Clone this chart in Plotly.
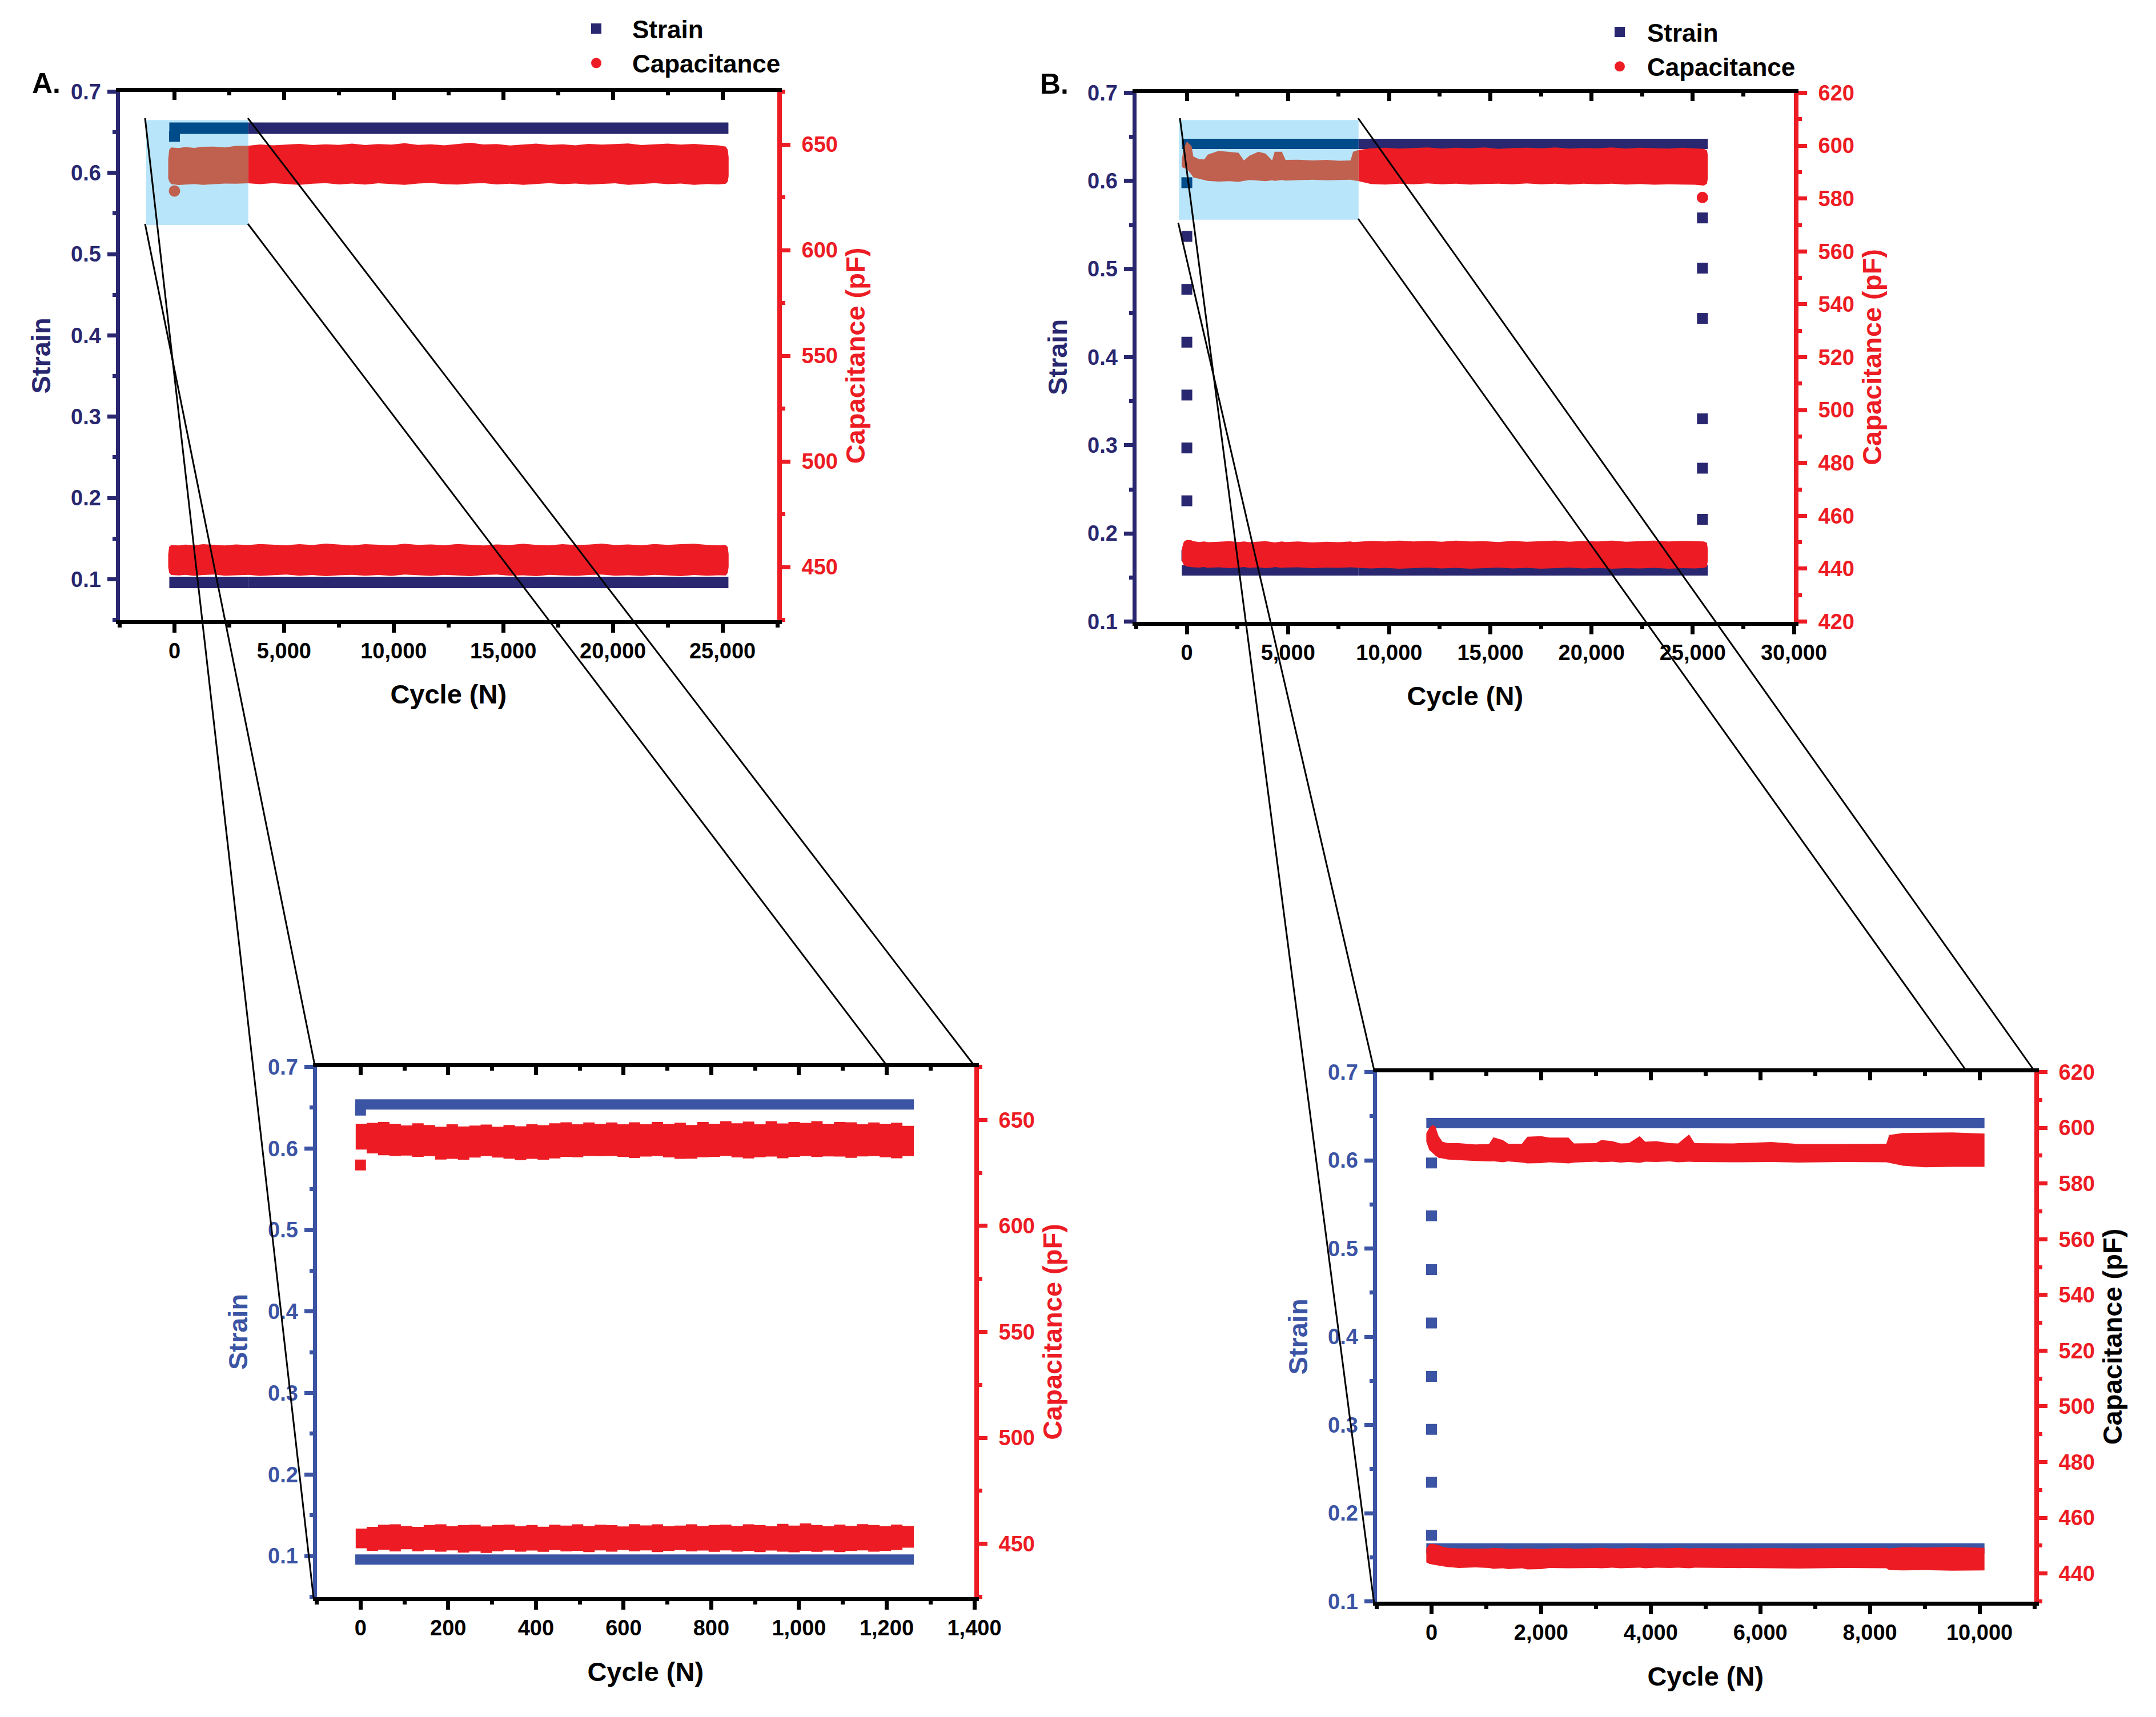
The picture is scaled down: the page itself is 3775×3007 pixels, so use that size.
# %%
import plotly.graph_objects as go

NAVY = "#29276f"
DEEP = "#004b8a"
BLUE = "#3b54a4"
RED = "#ed1c24"
BROWN = "#c0604f"
SKY = "#b9e5fa"
FONT = "Liberation Sans"
W, H = 3775, 3007
PAGE = 8  # the page body has a default 8 px margin

# %%
# Panel A, full run: strain plateaus and the edges of the capacitance bands
a_strain_cycles = [-235, 3368, 25270]
a_strain_high = [0.655, 0.655, 0.655]
a_strain_low = [0.096, 0.096, 0.096]
a_first_cycle = [0]
a_first_strain = [0.645]
a_first_cap = [628]
a_cycles = [-285, -240, -150, 200, 500, 900, 1300, 1800, 2300, 2800, 3368, 3900, 4500, 5100, 5700, 6300, 6900,
            7500, 8100, 8700, 9300, 9900, 10500, 11100, 11700, 12300, 12900, 13500, 14100, 14700, 15300, 15900,
            16500, 17100, 17700, 18300, 18900, 19500, 20100, 20700, 21300, 21900, 22500, 23100, 23700, 24300,
            24800, 25150, 25240, 25280]
a_high_top = [643, 647.5, 648.6, 648.3, 648.8, 648.4, 648.9, 649.0, 648.6, 649.3, 649.4, 650.0, 649.6, 649.9, 650.3,
              649.7, 650.1, 649.8, 650.4, 649.7, 650.2, 649.9, 650.6, 649.8, 650.1, 649.6, 650.3, 650.8, 650.0,
              650.2, 649.5, 650.0, 650.4, 649.8, 650.1, 649.6, 650.3, 649.9, 650.2, 650.5, 649.7, 650.1, 650.4,
              649.9, 650.3, 649.8, 649.6, 649.0, 647.5, 644]
a_high_low = [634, 632.6, 631.2, 630.8, 631.0, 631.3, 630.9, 631.2, 631.5, 631.4, 631.6, 631.2, 631.7, 631.3, 630.9,
              631.4, 631.7, 631.1, 631.5, 631.0, 631.6, 631.3, 630.9, 631.5, 631.8, 631.2, 631.0, 631.5, 631.7,
              631.1, 631.4, 630.9, 631.3, 631.7, 631.2, 631.5, 631.0, 631.4, 631.6, 630.9, 631.3, 631.7, 631.2,
              631.5, 630.9, 631.3, 631.1, 631.4, 632.4, 635]
a_low_top = [456, 459.6, 460.4, 460.2, 460.6, 460.3, 460.8, 460.5, 460.2, 460.7, 460.4, 460.9, 460.5, 460.3, 460.8,
             460.4, 461.1, 460.6, 460.2, 460.8, 460.5, 460.3, 461.0, 460.5, 460.7, 460.3, 460.9, 460.6, 460.2,
             460.7, 460.4, 461.0, 460.5, 460.3, 460.8, 460.4, 460.6, 461.1, 460.4, 460.7, 460.3, 460.9, 460.5,
             460.8, 461.0, 460.5, 460.3, 460.4, 459.4, 456]
a_low_low = [450, 447.2, 446.2, 446.0, 446.3, 445.8, 446.2, 446.4, 445.9, 446.1, 446.3, 445.8, 446.0, 446.4, 445.9,
             446.2, 445.7, 446.1, 446.3, 445.9, 446.2, 445.8, 446.4, 446.0, 445.8, 446.3, 446.0, 445.7, 446.2,
             446.4, 445.9, 446.1, 445.7, 446.3, 446.0, 445.8, 446.2, 446.4, 445.9, 446.1, 445.8, 446.3, 446.0,
             445.7, 446.2, 445.9, 446.1, 446.0, 447.2, 450]

# %%
# Panel B, full run
b_strain_cycles = [-250, 8487, 25745]
b_strain_high = [0.642, 0.642, 0.642]
b_strain_low = [0.158, 0.158, 0.158]
b_rise_cycles = [0, 0, 0, 0, 0, 0, 0, 0]
b_rise_strain = [0.598, 0.537, 0.477, 0.417, 0.357, 0.297, 0.237, 0.175]
b_fall_cycles = [25480, 25480, 25480, 25480, 25480, 25480]
b_fall_strain = [0.558, 0.501, 0.444, 0.330, 0.274, 0.216]
b_last_cycle = [25480]
b_last_cap = [580.4]
b_cycles = [-250, -150, 0, 232, 320, 600, 857, 1036, 1572, 2100, 2554, 2822, 3090, 3536, 3893, 4215, 4340, 4697, 4876,
            5500, 6200, 6900, 7500, 8090, 8216, 8487, 9100, 9800, 10500, 11200, 11900, 12600, 13300, 14000, 14700,
            15400, 16100, 16800, 17500, 18200, 18900, 19600, 20300, 21000, 21700, 22400, 23100, 23800, 24500,
            25100, 25550, 25700, 25745]
b_high_top = [594.8, 599.0, 601.6, 599.8, 595.9, 594.9, 594.8, 596.6, 598.0, 597.6, 597.3, 594.4, 596.2, 597.7, 597.0,
              594.4, 597.7, 597.7, 594.6, 594.7, 594.4, 594.6, 594.3, 594.4, 597.7, 598.4, 599.0, 599.2, 598.9,
              599.1, 599.3, 598.9, 599.2, 599.0, 599.3, 598.8, 599.1, 599.2, 599.0, 599.3, 598.9, 599.1, 599.0,
              599.3, 598.9, 599.2, 599.1, 598.9, 599.2, 599.0, 598.8, 598.3, 596.5]
b_high_low = [592.0, 591.5, 591.2, 589.0, 588.0, 587.4, 587.0, 586.7, 586.4, 586.6, 586.3, 586.7, 587.0, 586.8, 586.6,
              586.9, 586.7, 587.0, 586.8, 586.9, 587.1, 586.9, 587.0, 587.1, 586.9, 586.6, 585.5, 585.3, 585.6,
              585.4, 585.7, 585.4, 585.6, 585.3, 585.5, 585.6, 585.4, 585.7, 585.4, 585.6, 585.3, 585.6, 585.4,
              585.6, 585.3, 585.5, 585.2, 585.4, 585.3, 585.2, 584.9, 585.6, 587.5]
b_low_top = [447.5, 450.2, 450.9, 450.7, 450.4, 450.1, 450.3, 450.0, 450.2, 450.4, 450.1, 450.3, 450.0, 450.2, 450.4,
             450.1, 449.9, 450.3, 450.1, 450.3, 449.9, 450.2, 450.0, 450.3, 450.1, 450.2, 450.5, 450.3, 450.6,
             450.3, 450.5, 450.2, 450.6, 450.3, 450.4, 450.1, 450.5, 450.2, 450.4, 450.6, 450.2, 450.5, 450.3,
             450.6, 450.2, 450.4, 450.6, 450.3, 450.5, 450.4, 450.3, 449.8, 447.5]
b_low_low = [443, 441.4, 440.8, 440.6, 440.5, 440.4, 440.6, 440.3, 440.5, 440.2, 440.4, 440.6, 440.3, 440.5, 440.2,
             440.4, 440.6, 440.3, 440.4, 440.5, 440.2, 440.4, 440.3, 440.5, 440.4, 440.3, 440.1, 440.3, 440.0,
             440.2, 440.4, 440.1, 440.3, 440.0, 440.2, 440.4, 440.1, 440.3, 440.0, 440.2, 440.4, 440.1, 440.3,
             440.0, 440.2, 440.1, 440.3, 440.0, 440.2, 440.1, 440.3, 440.6, 443]

# %%
# Inset of panel A, first 1,250 cycles
ia_strain_cycles = [-12, 1262]
ia_strain_high = [0.654, 0.654]
ia_strain_low = [0.0957, 0.0957]
ia_first_cycle = [0]
ia_first_strain = [0.647]
ia_first_cap = [628.7]
ia_cycles = [-11, 14, 40, 66, 92, 118, 144, 170, 196, 222, 248, 274, 300, 326, 352, 378, 404, 430, 456, 482, 508, 534,
             560, 586, 612, 638, 664, 690, 716, 742, 768, 794, 820, 846, 872, 898, 924, 950, 976, 1002, 1028, 1054,
             1080, 1106, 1132, 1158, 1184, 1210, 1236, 1262]
ia_high_top = [648.2, 648.6, 649.0, 648.2, 647.4, 648.4, 647.6, 646.8, 647.9, 646.9, 647.3, 647.8, 646.8, 647.6, 647.0,
               648.0, 647.5, 648.4, 648.9, 647.9, 648.8, 648.1, 648.8, 647.9, 648.9, 648.0, 649.0, 648.1, 648.7,
               647.6, 649.0, 648.2, 649.4, 648.4, 649.2, 647.9, 649.4, 648.3, 649.0, 648.6, 649.4, 648.2, 649.0,
               648.9, 648.0, 648.8, 648.2, 648.7, 647.2, 646.9]
ia_high_low = [639.0, 636.0, 634.2, 633.3, 633.0, 633.2, 632.6, 632.9, 631.3, 631.6, 631.2, 632.2, 632.9, 632.2, 631.7,
               631.0, 631.6, 631.2, 631.8, 632.6, 632.4, 633.0, 632.9, 633.0, 632.6, 632.0, 632.7, 633.0, 632.3,
               631.6, 631.7, 632.4, 632.6, 633.0, 632.3, 631.8, 632.4, 632.7, 631.9, 632.6, 632.9, 632.5, 632.8,
               632.7, 632.1, 632.8, 632.9, 632.4, 631.9, 632.9]
ia_low_top = [457.2, 458.0, 459.0, 459.2, 458.4, 458.0, 458.9, 459.2, 458.3, 458.8, 459.0, 458.2, 458.9, 459.1, 458.3,
              458.9, 458.1, 459.0, 458.6, 459.2, 458.4, 459.0, 458.8, 458.2, 459.3, 458.7, 459.2, 458.3, 458.6,
              459.2, 458.4, 458.9, 459.1, 458.4, 459.2, 458.8, 458.3, 459.4, 458.6, 459.6, 458.9, 458.3, 459.1,
              458.5, 459.3, 458.9, 458.3, 459.1, 458.4, 457.2]
ia_low_low = [449.4, 447.9, 446.7, 447.2, 446.4, 447.4, 446.5, 447.1, 446.3, 446.9, 445.9, 446.4, 445.7, 446.5, 447.0,
              446.3, 446.8, 446.2, 447.0, 446.4, 446.7, 446.1, 446.9, 446.3, 447.1, 446.5, 446.9, 446.1, 446.6,
              447.0, 446.4, 446.8, 446.2, 446.9, 446.3, 446.7, 446.1, 446.8, 446.3, 446.0, 446.7, 446.2, 446.8,
              446.1, 446.6, 446.9, 446.3, 446.7, 447.0, 448.2]

# %%
# Inset of panel B, first 10,000 cycles
ib_strain_cycles = [-95, 10090]
ib_strain_high = [0.642, 0.642]
ib_strain_low = [0.160, 0.160]
ib_rise_cycles = [0, 0, 0, 0, 0, 0, 0, 0]
ib_rise_strain = [0.597, 0.537, 0.476, 0.4155, 0.355, 0.295, 0.235, 0.175]
ib_cycles = [-95, -40, 20, 70, 130, 200, 300, 500, 800, 1050, 1130, 1300, 1400, 1650, 1750, 2000, 2150, 2500, 2600,
             3000, 3100, 3300, 3450, 3600, 3800, 3900, 4100, 4350, 4500, 4700, 4800, 5500, 6200, 6700, 7500, 8300,
             8350, 8600, 9000, 9500, 10090]
ib_high_top = [598.0, 600.0, 601.0, 600.5, 597.0, 595.0, 594.5, 594.5, 594.0, 594.2, 596.6, 595.6, 594.3, 594.3, 596.8,
               597.0, 596.5, 596.5, 594.4, 594.5, 595.6, 595.2, 594.4, 594.5, 597.0, 595.0, 595.2, 594.5, 594.4,
               597.6, 594.5, 594.4, 594.9, 594.2, 594.2, 594.3, 597.4, 598.1, 598.2, 598.3, 597.9]
ib_high_low = [595.0, 592.0, 591.0, 590.0, 589.2, 589.0, 588.6, 588.4, 588.1, 587.9, 588.0, 587.6, 587.9, 587.5, 587.2,
               587.3, 587.6, 587.2, 587.5, 587.8, 587.6, 587.8, 587.5, 587.7, 587.4, 587.8, 587.7, 587.9, 587.6,
               587.8, 587.7, 587.6, 587.7, 587.5, 587.7, 587.6, 587.5, 586.4, 585.8, 586.0, 586.0]
ib_low_top = [449.0, 450.5, 450.7, 450.5, 450.2, 449.6, 449.2, 449.0, 448.9, 449.0, 449.2, 449.0, 448.8, 448.9, 449.0,
              448.8, 449.0, 449.1, 448.9, 449.1, 449.2, 449.0, 449.0, 449.2, 449.1, 449.2, 449.0, 449.1, 449.2,
              449.0, 449.1, 449.0, 449.1, 449.0, 449.1, 449.2, 449.0, 449.4, 449.3, 449.5, 449.2]
ib_low_low = [444.0, 443.5, 443.2, 443.0, 442.8, 442.6, 442.3, 442.0, 442.2, 442.0, 441.7, 441.9, 441.6, 441.9, 441.5,
              441.6, 442.0, 441.9, 441.8, 442.0, 441.9, 442.1, 441.9, 442.0, 442.1, 441.9, 442.1, 442.0, 442.1,
              441.9, 442.1, 442.0, 441.9, 441.8, 442.0, 441.9, 441.2, 441.1, 441.2, 441.0, 441.1]

a_split = 3368
b_split = 8487

# %%
fig = go.Figure()


def txt(size, color):
    return dict(family=FONT, size=size, color=color, weight=700)


def px(x, y):
    return (x - PAGE) / W, 1 - (y - PAGE) / H


def add_axes(b, box, xr, xstep, xminor, yr, ymajor0, yrr, rstep, rminor, colors, ltitle, rtitle, stand):
    # b: number of the bottom/left axis pair, b+1 is the top/right pair
    left, top, right, bottom = box
    x0, y1 = px(left + 3.5, top + 3.5)
    x1, y0 = px(right - 4, bottom - 3.5)
    dom_x = [x0, x1]
    dom_y = [y0, y1]
    col, rtcol = colors
    common_x = dict(domain=dom_x, range=xr, dtick=xstep, tick0=0, showgrid=False, zeroline=False, showline=True,
                    linecolor="black", linewidth=7, tickcolor="black", tickwidth=7, tickformat=",d",
                    minor=dict(ticks="outside", dtick=xminor, tick0=0, ticklen=6, tickwidth=7, tickcolor="black",
                               showgrid=False))
    xa = dict(common_x, anchor=f"y{b}", side="bottom", ticks="outside", ticklen=15, tickfont=txt(38, "black"),
              ticklabelstandoff=0, title=dict(text="Cycle (N)", font=txt(47, "black"), standoff=stand[0]))
    xb = dict(common_x, anchor=f"y{b + 1}", side="top", overlaying=f"x{b}", ticks="inside", ticklen=14,
              showticklabels=False)
    xb["minor"] = dict(common_x["minor"], ticks="inside")
    ya = dict(domain=dom_y, range=yr, dtick=0.1, tick0=ymajor0, anchor=f"x{b}", side="left", showgrid=False,
              zeroline=False, showline=True, linecolor=col, linewidth=7, ticks="outside", ticklen=15, tickwidth=7,
              tickcolor=col, tickformat=".1f", tickfont=txt(38, col), ticklabelstandoff=3,
              minor=dict(ticks="outside", dtick=0.05, tick0=0.05, ticklen=6, tickwidth=7, tickcolor=col,
                         showgrid=False),
              title=dict(text=ltitle, font=txt(47, col), standoff=stand[1]))
    yb = dict(domain=dom_y, range=yrr, dtick=rstep, tick0=rminor * 2, anchor=f"x{b + 1}", side="right",
              overlaying=f"y{b}", showgrid=False, zeroline=False, showline=True, linecolor=RED, linewidth=8,
              ticks="outside", ticklen=15, tickwidth=7, tickcolor=RED, tickfont=txt(38, RED), ticklabelstandoff=12,
              minor=dict(ticks="outside", dtick=rminor, tick0=rminor, ticklen=6, tickwidth=7, tickcolor=RED,
                         showgrid=False),
              title=dict(text=rtitle, font=txt(47, rtcol), standoff=stand[2]))
    n = "" if b == 1 else str(b)
    fig.update_layout({f"xaxis{n}": xa, f"xaxis{b + 1}": xb, f"yaxis{n}": ya, f"yaxis{b + 1}": yb})


def band(b, cycles, top, low, color, shape="linear"):
    assert len(cycles) == len(top) == len(low)
    fig.add_trace(go.Scatter(x=cycles + cycles[::-1], y=top + low[::-1], mode="lines", fill="toself",
                             fillcolor=color, line=dict(width=0, color=color, shape=shape), showlegend=False,
                             hoverinfo="skip", xaxis=f"x{b + 1}", yaxis=f"y{b + 1}"))


def split_band(b, cycles, top, low, cut):
    i = cycles.index(cut)
    band(b, cycles[i:], top[i:], low[i:], RED)
    band(b, cycles[:i + 1], top[:i + 1], low[:i + 1], BROWN)


def strain_line(b, cycles, values, color, width):
    fig.add_trace(go.Scatter(x=cycles, y=values, mode="lines", line=dict(color=color, width=width),
                             showlegend=False, hoverinfo="skip", xaxis=f"x{b}", yaxis=f"y{b}"))


def points(b, cycles, values, color, symbol="square", right=False, size=19):
    k = b + 1 if right else b
    fig.add_trace(go.Scatter(x=cycles, y=values, mode="markers", marker=dict(symbol=symbol, color=color, size=size),
                             showlegend=False, hoverinfo="skip", xaxis=f"x{k}", yaxis=f"y{k}"))


# %%
add_axes(1, (206, 157, 1365, 1089), [-2500, 27500], 5000, 2500, [0.05, 0.7], 0.1, [425, 675], 50, 25,
         (NAVY, RED), "Strain", "Capacitance (pF)", (42, 23, 18))
add_axes(3, (1986, 159, 3145, 1092), [-2500, 30000], 5000, 2500, [0.1, 0.7], 0.1, [420, 620], 20, 10,
         (NAVY, RED), "Strain", "Capacitance (pF)", (42, 23, 18))
add_axes(5, (551, 1865, 1710, 2800), [-100, 1400], 200, 100, [0.05, 0.7], 0.1, [425, 675], 50, 25,
         (BLUE, RED), "Strain", "Capacitance (pF)", (42, 23, 18))
add_axes(7, (2407, 1874, 3566, 2808), [-1000, 11000], 2000, 1000, [0.1, 0.7], 0.1, [430, 620], 20, 10,
         (BLUE, "black"), "Strain", "Capacitance (pF)", (42, 23, 18))

# Panel A
strain_line(1, a_strain_cycles[:2], a_strain_high[:2], DEEP, 20)
strain_line(1, a_strain_cycles[1:], a_strain_high[1:], NAVY, 20)
strain_line(1, a_strain_cycles[:2], a_strain_low[:2], NAVY, 20)
strain_line(1, a_strain_cycles[1:], a_strain_low[1:], NAVY, 20)
points(1, a_first_cycle, a_first_strain, DEEP)
split_band(1, a_cycles, a_high_top, a_high_low, a_split)
band(1, a_cycles, a_low_top, a_low_low, RED)
points(1, a_first_cycle, a_first_cap, BROWN, "circle", True, 20)

# Panel B
strain_line(3, b_strain_cycles[:2], b_strain_high[:2], DEEP, 18)
strain_line(3, b_strain_cycles[1:], b_strain_high[1:], NAVY, 18)
strain_line(3, b_strain_cycles[:2], b_strain_low[:2], NAVY, 18)
strain_line(3, b_strain_cycles[1:], b_strain_low[1:], NAVY, 18)
points(3, b_rise_cycles[:1], b_rise_strain[:1], DEEP)
points(3, b_rise_cycles[1:], b_rise_strain[1:], NAVY)
points(3, b_fall_cycles, b_fall_strain, NAVY)
split_band(3, b_cycles, b_high_top, b_high_low, b_split)
band(3, b_cycles, b_low_top, b_low_low, RED)
points(3, b_last_cycle, b_last_cap, RED, "circle", True, 20)

# Inset A
strain_line(5, ia_strain_cycles, ia_strain_high, BLUE, 18)
strain_line(5, ia_strain_cycles, ia_strain_low, BLUE, 18)
points(5, ia_first_cycle, ia_first_strain, BLUE)
band(5, ia_cycles, ia_high_top, ia_high_low, RED, "hv")
band(5, ia_cycles, ia_low_top, ia_low_low, RED, "hv")
points(5, ia_first_cycle, ia_first_cap, RED, "square", True)

# Inset B
strain_line(7, ib_strain_cycles, ib_strain_high, BLUE, 18)
strain_line(7, ib_strain_cycles, ib_strain_low, BLUE, 18)
points(7, ib_rise_cycles, ib_rise_strain, BLUE)
band(7, ib_cycles, ib_high_top, ib_high_low, RED)
band(7, ib_cycles, ib_low_top, ib_low_low, RED)

# %%
# Legends, one per panel
for lg, ax in (("legend", "1"), ("legend2", "3")):
    fig.add_trace(go.Scatter(x=[None], y=[None], mode="markers", name="Strain", legend=lg,
                             marker=dict(symbol="square", color=NAVY, size=16, line=dict(color=NAVY, width=2)),
                             xaxis=f"x{ax}", yaxis=f"y{ax}"))
    fig.add_trace(go.Scatter(x=[None], y=[None], mode="markers", name="Capacitance", legend=lg,
                             marker=dict(symbol="circle", color=RED, size=16, line=dict(color=RED, width=2)),
                             xaxis=f"x{ax}", yaxis=f"y{ax}"))

shapes = [
    dict(type="rect", xref="x", yref="y", x0=-1295, x1=a_split, y0=0.536, y1=0.665, fillcolor=SKY, line_width=0,
         layer="below"),
    dict(type="rect", xref="x3", yref="y3", x0=-392, x1=b_split, y0=0.556, y1=0.669, fillcolor=SKY, line_width=0,
         layer="below"),
]
# Zoom connectors from the shaded boxes to the insets
for (x0, y0), (x1, y1) in [((254, 207), (549, 2798)), ((254, 392), (551, 1865)),
                           ((434, 207), (1705, 1865)), ((434, 392), (1552, 1865)),
                           ((2066, 207), (2406, 2808)), ((2063, 390), (2406, 1874)),
                           ((2378, 207), (3561, 1874)), ((2378, 383), (3442, 1874))]:
    a, b = px(x0, y0)
    c, d = px(x1, y1)
    shapes.append(dict(type="line", xref="paper", yref="paper", x0=a, y0=b, x1=c, y1=d,
                       line=dict(color="black", width=3)))

lg_a = px(981, 15)
lg_b = px(2788, 21)
lab_a = px(54, 146)
lab_b = px(1819, 147)
fig.update_layout(
    width=W, height=H, margin=dict(l=0, r=0, t=0, b=0), paper_bgcolor="white", plot_bgcolor="white",
    template=None, shapes=shapes,
    font=dict(family=FONT),
    legend=dict(x=lg_a[0], xanchor="left", y=lg_a[1], yanchor="top", font=txt(44, "black"),
                bgcolor="rgba(0,0,0,0)", itemwidth=116, tracegroupgap=0),
    legend2=dict(x=lg_b[0], xanchor="left", y=lg_b[1], yanchor="top", font=txt(44, "black"),
                 bgcolor="rgba(0,0,0,0)", itemwidth=86, tracegroupgap=0),
    annotations=[
        dict(text="A.", xref="paper", yref="paper", x=lab_a[0], y=lab_a[1], xanchor="left", yanchor="middle",
             showarrow=False, font=txt(50, "black")),
        dict(text="B.", xref="paper", yref="paper", x=lab_b[0], y=lab_b[1], xanchor="left", yanchor="middle",
             showarrow=False, font=txt(50, "black")),
    ],
)

fig.write_html("out.html")
